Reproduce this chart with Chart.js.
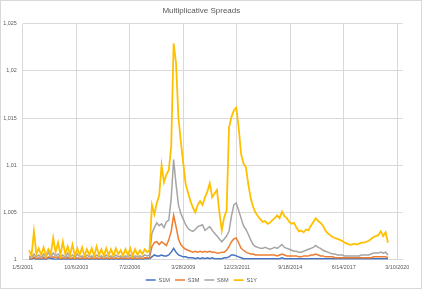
<!DOCTYPE html>
<html>
<head>
<meta charset="utf-8">
<script src="https://cdn.jsdelivr.net/npm/chart.js@4.4.1/dist/chart.umd.min.js"></script>
<style>
  html, body { margin: 0; padding: 0; background: #ffffff; }
  #wrap { position: relative; width: 422px; height: 289px; }
</style>
</head>
<body>
<div id="wrap"><canvas id="c" width="422" height="289"></canvas></div>
<script>
// ---- Data ----
const chartTitle = "Multiplicative Spreads";
const seriesNames = ["S1M", "S3M", "S6M", "S1Y"];
const seriesColors = ["#4472C4", "#ED7D31", "#A5A5A5", "#FFC000"];
// x-axis tick labels (one every 1000 days from the axis origin 1/5/2001)
const tickDays = [0, 1000, 2000, 3000, 4000, 5000, 6000, 7000];
const tickLabels = ["1/5/2001", "10/6/2003", "7/2/2006", "3/28/2009", "12/23/2011", "9/18/2014", "6/14/2017", "3/10/2020"];
// samples: first sample day and spacing (days after 1/5/2001)
const firstSampleDay = 120;
const sampleStepDays = 45;

const s1m = [
  1.0001,1.0000,1.0002,1.0000,1.0001,1.0000,1.0001,1.0000,1.0002,1.0001,
  1.0001,1.0000,1.0001,1.0000,1.0001,1.0000,1.0001,1.0000,1.0001,1.0000,
  1.0001,1.0000,1.0001,1.0000,1.0001,1.0000,1.0001,1.0000,1.0001,1.0000,
  1.0001,1.0000,1.0001,1.0000,1.0001,1.0000,1.0001,1.0000,1.0001,1.0000,
  1.0001,1.0000,1.0001,1.0000,1.0001,1.0000,1.0001,1.0000,1.0001,1.0001,
  1.0001,1.0003,1.0005,1.0004,1.0004,1.0005,1.0004,1.0004,1.0005,1.0008,
  1.0012,1.0008,1.0005,1.0004,1.0003,1.0003,1.0002,1.0002,1.0002,1.0001,
  1.0002,1.0001,1.0002,1.0001,1.0002,1.0001,1.0002,1.0001,1.0001,1.0001,
  1.0001,1.0002,1.0002,1.0003,1.0005,1.0005,1.0004,1.0003,1.0002,1.0001,
  1.0001,1.0001,1.0001,1.0001,1.0001,1.0001,1.0001,1.0001,1.0001,1.0001,
  1.0001,1.0001,1.0001,1.0001,1.0001,1.0002,1.0001,1.0001,1.0001,1.0001,
  1.0001,1.0001,1.0001,1.0001,1.0001,1.0001,1.0001,1.0001,1.0001,1.0001,
  1.0001,1.0001,1.0001,1.0001,1.0001,1.0001,1.0001,1.0001,1.0001,1.0001,
  1.0001,1.0001,1.0001,1.0001,1.0001,1.0001,1.0001,1.0001,1.0001,1.0001,
  1.0001,1.0001,1.0001,1.0001,1.0001,1.0001,1.0001,1.0001,1.0001,1.0001
];
const s3m = [
  1.0002,1.0001,1.0003,1.0001,1.0002,1.0001,1.0003,1.0001,1.0003,1.0002,
  1.0003,1.0002,1.0003,1.0001,1.0002,1.0001,1.0003,1.0001,1.0002,1.0001,
  1.0002,1.0001,1.0002,1.0001,1.0002,1.0001,1.0002,1.0001,1.0002,1.0001,
  1.0002,1.0001,1.0002,1.0001,1.0002,1.0001,1.0002,1.0001,1.0002,1.0001,
  1.0002,1.0001,1.0002,1.0001,1.0002,1.0001,1.0002,1.0001,1.0002,1.0002,
  1.0002,1.0014,1.0018,1.0019,1.0016,1.0019,1.0017,1.0015,1.0021,1.0030,
  1.0047,1.0035,1.0022,1.0016,1.0013,1.0011,1.0010,1.0009,1.0008,1.0009,
  1.0008,1.0009,1.0008,1.0009,1.0008,1.0009,1.0008,1.0008,1.0007,1.0007,
  1.0008,1.0008,1.0010,1.0014,1.0019,1.0022,1.0023,1.0018,1.0012,1.0010,
  1.0008,1.0007,1.0006,1.0006,1.0005,1.0005,1.0005,1.0005,1.0005,1.0005,
  1.0005,1.0005,1.0005,1.0004,1.0005,1.0006,1.0005,1.0004,1.0004,1.0004,
  1.0004,1.0004,1.0003,1.0003,1.0004,1.0004,1.0004,1.0005,1.0005,1.0006,
  1.0005,1.0004,1.0004,1.0003,1.0003,1.0003,1.0003,1.0002,1.0002,1.0002,
  1.0002,1.0002,1.0002,1.0002,1.0002,1.0002,1.0002,1.0002,1.0002,1.0002,
  1.0002,1.0002,1.0002,1.0003,1.0003,1.0003,1.0003,1.0003,1.0003,1.0002
];
const s6m = [
  1.0004,1.0002,1.0006,1.0003,1.0005,1.0002,1.0006,1.0003,1.0008,1.0003,
  1.0007,1.0004,1.0006,1.0003,1.0005,1.0002,1.0007,1.0003,1.0005,1.0002,
  1.0006,1.0003,1.0004,1.0002,1.0005,1.0003,1.0004,1.0002,1.0005,1.0003,
  1.0004,1.0002,1.0005,1.0003,1.0004,1.0002,1.0005,1.0003,1.0004,1.0002,
  1.0004,1.0003,1.0005,1.0002,1.0004,1.0003,1.0004,1.0003,1.0005,1.0004,
  1.0005,1.0028,1.0034,1.0039,1.0036,1.0038,1.0034,1.0040,1.0042,1.0065,
  1.0106,1.0080,1.0058,1.0049,1.0043,1.0037,1.0033,1.0031,1.0030,1.0032,
  1.0035,1.0036,1.0037,1.0031,1.0033,1.0035,1.0031,1.0028,1.0025,1.0022,
  1.0019,1.0022,1.0025,1.0030,1.0046,1.0058,1.0060,1.0052,1.0044,1.0036,
  1.0032,1.0027,1.0021,1.0016,1.0014,1.0013,1.0012,1.0012,1.0013,1.0012,
  1.0011,1.0012,1.0013,1.0012,1.0014,1.0016,1.0013,1.0012,1.0011,1.0010,
  1.0009,1.0009,1.0008,1.0008,1.0009,1.0010,1.0011,1.0012,1.0013,1.0015,
  1.0013,1.0012,1.0010,1.0009,1.0008,1.0007,1.0006,1.0006,1.0005,1.0005,
  1.0005,1.0004,1.0004,1.0004,1.0004,1.0004,1.0004,1.0004,1.0005,1.0005,
  1.0005,1.0005,1.0006,1.0007,1.0007,1.0007,1.0008,1.0007,1.0008,1.0005
];
const s1y = [
  1.0010,1.0004,1.0030,1.0006,1.0012,1.0005,1.0013,1.0004,1.0011,1.0006,
  1.0023,1.0008,1.0018,1.0005,1.0019,1.0006,1.0014,1.0005,1.0016,1.0004,
  1.0012,1.0005,1.0013,1.0004,1.0011,1.0005,1.0012,1.0004,1.0014,1.0005,
  1.0011,1.0004,1.0012,1.0005,1.0011,1.0004,1.0012,1.0006,1.0010,1.0004,
  1.0011,1.0005,1.0012,1.0004,1.0011,1.0005,1.0010,1.0006,1.0011,1.0008,
  1.0010,1.0058,1.0048,1.0060,1.0068,1.0100,1.0082,1.0090,1.0095,1.0120,
  1.0229,1.0208,1.0150,1.0125,1.0102,1.0080,1.0071,1.0062,1.0055,1.0050,
  1.0058,1.0062,1.0058,1.0066,1.0072,1.0081,1.0066,1.0070,1.0074,1.0050,
  1.0031,1.0045,1.0052,1.0140,1.0151,1.0158,1.0161,1.0140,1.0112,1.0102,
  1.0098,1.0080,1.0065,1.0056,1.0050,1.0046,1.0043,1.0040,1.0041,1.0038,
  1.0039,1.0042,1.0044,1.0047,1.0044,1.0051,1.0046,1.0044,1.0040,1.0038,
  1.0039,1.0034,1.0030,1.0031,1.0029,1.0032,1.0031,1.0036,1.0040,1.0044,
  1.0041,1.0039,1.0036,1.0031,1.0028,1.0026,1.0024,1.0023,1.0022,1.0021,
  1.0020,1.0018,1.0017,1.0016,1.0016,1.0017,1.0016,1.0017,1.0018,1.0018,
  1.0019,1.0020,1.0022,1.0024,1.0025,1.0026,1.0030,1.0025,1.0029,1.0018
];
const yMin = 1, yMax = 1.025, yStep = 0.005;

// ---- Build datasets ----
const seriesValues = [s1m, s3m, s6m, s1y];
function toPoints(arr) {
  return arr.map((v, i) => ({ x: firstSampleDay + i * sampleStepDays, y: v }));
}
const datasets = seriesValues.map((arr, k) => ({
  label: seriesNames[k],
  data: toPoints(arr),
  borderColor: seriesColors[k],
  backgroundColor: seriesColors[k],
  borderWidth: k === 3 ? 1.8 : 1.5,
  pointRadius: 0,
  tension: 0,
  order: seriesValues.length - k
}));

const textColor = "#595959";
const gridColor = "#d9d9d9";
const fontFamily = "'Liberation Sans', Arial, sans-serif";

const framePlugin = {
  id: "frame",
  beforeDraw(chart) {
    const ctx = chart.ctx;
    ctx.save();
    ctx.fillStyle = "#ffffff";
    ctx.fillRect(0, 0, chart.width, chart.height);
    ctx.restore();
  },
  afterDraw(chart) {
    const ctx = chart.ctx;
    ctx.save();
    ctx.strokeStyle = gridColor;
    ctx.lineWidth = 1;
    ctx.strokeRect(0.5, 0.5, chart.width - 1, chart.height - 1);
    ctx.restore();
  }
};

new Chart(document.getElementById("c"), {
  type: "line",
  data: { datasets },
  plugins: [framePlugin],
  options: {
    responsive: false,
    animation: false,
    devicePixelRatio: 1,
    layout: { padding: { left: 0, right: 19.3, top: 0, bottom: 0 } },
    plugins: {
      title: {
        display: true,
        text: chartTitle,
        color: textColor,
        font: { family: fontFamily, size: 8, weight: "normal" },
        padding: { top: 6, bottom: 8 }
      },
      legend: {
        position: "bottom",
        maxHeight: 16.75,
        labels: {
          usePointStyle: true,
          pointStyle: "line",
          pointStyleWidth: 10,
          padding: 5,
          color: textColor,
          font: { family: fontFamily, size: 5.6 },
          sort: (a, b) => a.datasetIndex - b.datasetIndex
        }
      },
      tooltip: { enabled: false }
    },
    scales: {
      x: {
        type: "linear",
        min: 0,
        max: 7100,
        afterBuildTicks(scale) {
          scale.ticks = tickDays.map(v => ({ value: v }));
        },
        afterFit(scale) { scale.height = 12.55; },
        ticks: {
          autoSkip: false,
          maxRotation: 0,
          padding: 5,
          color: textColor,
          font: { family: fontFamily, size: 5.4 },
          callback(value) {
            const idx = tickDays.indexOf(value);
            return idx >= 0 ? tickLabels[idx] : "";
          }
        },
        grid: { color: gridColor, lineWidth: 1, drawTicks: false },
        border: { display: true, color: gridColor, width: 1 }
      },
      y: {
        min: yMin,
        max: yMax,
        afterFit(scale) { scale.width = 22.7; },
        ticks: {
          stepSize: yStep,
          padding: 6,
          color: textColor,
          font: { family: fontFamily, size: 5.4 },
          callback(value) {
            return String(Number(value.toFixed(3))).replace(".", ",");
          }
        },
        grid: { color: gridColor, lineWidth: 1, drawTicks: false },
        border: { display: false }
      }
    }
  }
});
</script>
</body>
</html>
